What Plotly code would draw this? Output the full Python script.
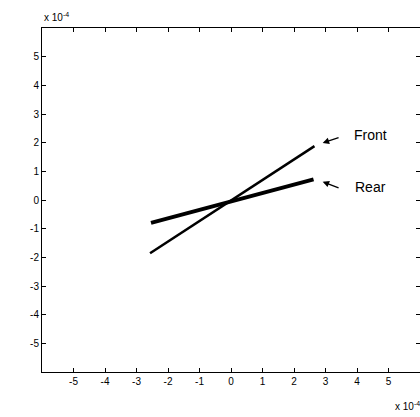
import plotly.graph_objects as go

# Wheel-axle displacement traces, values in units of 1e-4
front_x = [-2.57, 2.65]
front_y = [-1.86, 1.88]
rear_x = [-2.54, 2.62]
rear_y = [-0.80, 0.72]

tick_vals = [-5, -4, -3, -2, -1, 0, 1, 2, 3, 4, 5]
tick_text = ["-5", "-4", "-3", "-2", "-1", "0", "1", "2", "3", "4", "5"]

FONT = "Liberation Sans, Arial, sans-serif"

fig = go.Figure()
fig.add_trace(go.Scatter(x=rear_x, y=rear_y, mode="lines",
                         line=dict(color="black", width=4), name="Rear"))
fig.add_trace(go.Scatter(x=front_x, y=front_y, mode="lines",
                         line=dict(color="black", width=2.5), name="Front"))

axis_common = dict(
    range=[-6, 6], tickvals=tick_vals, ticktext=tick_text,
    ticks="inside", ticklen=4, tickcolor="black", tickwidth=1,
    showline=True, linecolor="black", linewidth=1, mirror="ticks",
    showgrid=False, zeroline=False,
    tickfont=dict(family=FONT, size=10, color="black"),
)

fig.update_xaxes(**axis_common)
fig.update_yaxes(**axis_common)

annotations = [
    # arrows pointing to the ends of the two traces
    dict(x=2.91, y=1.99, ax=3.51, ay=2.21, xref="x", yref="y", axref="x", ayref="y",
         showarrow=True, arrowhead=2, arrowsize=1, arrowwidth=1.3, arrowcolor="black", text=" "),
    dict(x=2.91, y=0.64, ax=3.51, ay=0.38, xref="x", yref="y", axref="x", ayref="y",
         showarrow=True, arrowhead=2, arrowsize=1, arrowwidth=1.3, arrowcolor="black", text=" "),
    dict(x=3.84, y=2.26, xref="x", yref="y", text="Front", showarrow=False,
         xanchor="left", yanchor="middle", font=dict(family=FONT, size=14, color="black")),
    dict(x=3.87, y=0.46, xref="x", yref="y", text="Rear", showarrow=False,
         xanchor="left", yanchor="middle", font=dict(family=FONT, size=14, color="black")),
    # axis exponent labels
    dict(x=42, y=417 - 17, xref="paper", yref="paper", text="x 10<sup>-4</sup>", showarrow=False,
         xanchor="left", yanchor="middle", font=dict(family=FONT, size=10, color="black")),
    dict(x=393, y=417 - 406, xref="paper", yref="paper", text="x 10<sup>-4</sup>", showarrow=False,
         xanchor="left", yanchor="middle", font=dict(family=FONT, size=10, color="black")),
]

fig.update_layout(
    width=420, height=417,
    margin=dict(l=42, r=0, t=28, b=45),
    plot_bgcolor="white", paper_bgcolor="white",
    showlegend=False,
)

# exponent labels are positioned in pixels; convert to paper fractions
plot_w = 420 - 42
plot_h = 417 - 28 - 45
for a in annotations:
    if a.get("xref") == "paper":
        a["x"] = (a["x"] - 42) / plot_w
        a["y"] = (a["y"] - 45) / plot_h
fig.update_layout(annotations=annotations)

fig.write_html("out.html")
